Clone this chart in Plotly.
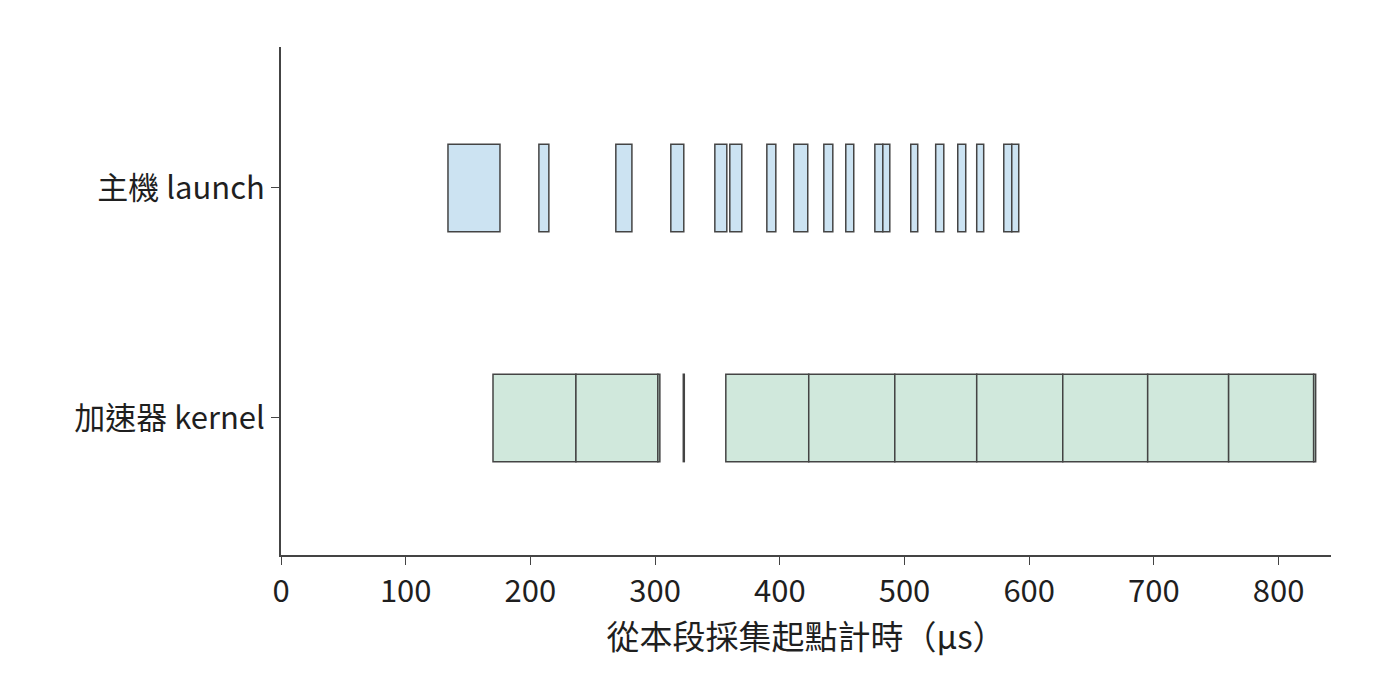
import plotly.graph_objects as go

# 主機 launch 區段 (start, end) µs
launch_start = [133.9, 206.8, 268.5, 312.6, 347.9, 359.9, 389.6, 411.2, 435.3, 452.9,
                476.2, 482.6, 505.0, 525.0, 542.7, 557.9, 579.6, 586.0]
launch_end = [175.6, 214.8, 281.4, 323.0, 357.5, 369.5, 396.8, 422.4, 442.5, 459.3,
              482.6, 488.2, 510.6, 531.5, 549.1, 563.5, 586.0, 591.6]

# 加速器 kernel 區段
kernel_start = [170.0, 236.5, 302.2, 322.6, 356.7, 423.2, 492.2, 557.9, 626.9, 695.0, 759.9, 828.1]
kernel_end = [236.5, 302.2, 303.8, 323.4, 423.2, 492.2, 557.9, 626.9, 695.0, 759.9, 828.1, 829.7]

rows = ["加速器 kernel", "主機 launch"]

fig = go.Figure()
fig.add_trace(go.Bar(
    y=[rows[1]] * len(launch_start),
    x=[e - s for s, e in zip(launch_start, launch_end)],
    base=launch_start, orientation="h", width=0.38,
    marker=dict(color="#cce3f2", line=dict(color="#444444", width=1.5)),
    showlegend=False))
fig.add_trace(go.Bar(
    y=[rows[0]] * len(kernel_start),
    x=[e - s for s, e in zip(kernel_start, kernel_end)],
    base=kernel_start, orientation="h", width=0.38,
    marker=dict(color="#d0e8dc", line=dict(color="#444444", width=1.5)),
    showlegend=False))

fig.update_layout(
    width=1400, height=696, barmode="overlay",
    plot_bgcolor="white", paper_bgcolor="white",
    margin=dict(l=273, r=77, t=39, b=149),
    font=dict(family="Noto Sans CJK TC", size=31, color="#1f1f1f"),
)
fig.update_xaxes(range=[0, 842], tickvals=list(range(0, 900, 100)),
                 showgrid=False, showline=True, linecolor="#444444", linewidth=2,
                 ticks="outside", ticklen=8, tickcolor="#444444", zeroline=False,
                 title=dict(text="從本段採集起點計時（µs）", standoff=8, font=dict(size=33)))
fig.update_yaxes(categoryorder="array", categoryarray=rows, range=[-0.596, 1.613],
                 showgrid=False, showline=True, linecolor="#444444", linewidth=2,
                 ticks="outside", ticklen=8, tickcolor="#444444", zeroline=False)

fig.write_html("out.html")
